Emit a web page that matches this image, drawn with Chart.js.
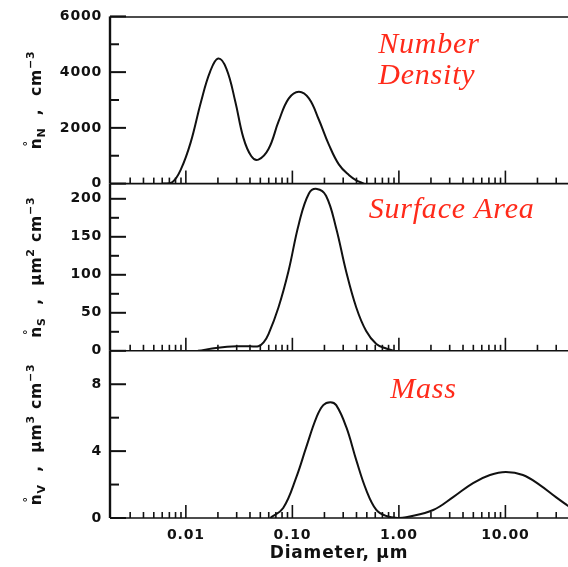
<!DOCTYPE html>
<html><head><meta charset="utf-8">
<script src="https://cdn.jsdelivr.net/npm/chart.js@4.4.0/dist/chart.umd.min.js"></script>
<style>html,body{margin:0;padding:0;background:#fff;overflow:hidden}#wrap{width:568px;height:567px;position:relative}</style>
</head><body><div id="wrap"><canvas id="c" width="568" height="567"></canvas></div>
<script>
// ---- data (diameter in µm) ----
const diamN = [0.006, 0.0075, 0.009, 0.0111, 0.0139, 0.0169, 0.0201, 0.024, 0.0291, 0.0347, 0.0412, 0.048, 0.0597, 0.0742, 0.0922, 0.115, 0.143, 0.177, 0.22, 0.274, 0.341, 0.398, 0.47];
const numberDensity = [0, 60, 520, 1480, 2950, 4020, 4490, 4130, 2950, 1640, 980, 860, 1240, 2230, 3050, 3300, 3060, 2300, 1400, 680, 300, 120, 0];

const diamS = [0.013, 0.02, 0.03, 0.04, 0.048, 0.0537, 0.0597, 0.074, 0.092, 0.115, 0.143, 0.17, 0.207, 0.257, 0.319, 0.398, 0.493, 0.614, 0.76, 0.9];
const surfaceArea = [0, 4, 6, 6, 6, 11, 22, 57, 105, 167, 207, 213, 204, 162, 105, 57, 26, 9, 3, 0];

const diamV = [0.062, 0.082, 0.109, 0.135, 0.168, 0.195, 0.227, 0.258, 0.321, 0.398, 0.494, 0.614, 0.76, 1.0, 1.17, 2.1, 3.23, 4.97, 7.17, 10.1, 14.6, 21.1, 29.8, 40];
const mass = [0, 0.6, 2.45, 4.24, 6.0, 6.75, 6.93, 6.75, 5.43, 3.46, 1.67, 0.48, 0.12, 0, 0.05, 0.48, 1.25, 2.09, 2.57, 2.75, 2.57, 1.97, 1.25, 0.66];

// ---- ticks ----
const xTickValues = [0.01, 0.1, 1, 10];
const xTickLabels = ['0.01', '0.10', '1.00', '10.00'];
const xMinorTicks = [0.003,0.004,0.005,0.006,0.007,0.008,0.009,
                     0.02,0.03,0.04,0.05,0.06,0.07,0.08,0.09,
                     0.2,0.3,0.4,0.5,0.6,0.7,0.8,0.9,
                     2,3,4,5,6,7,8,9,20,30];
const yTicksN = [0, 2000, 4000, 6000], yMinorN = [1000, 3000, 5000];
const yTicksS = [0, 50, 100, 150, 200], yMinorS = [25, 75, 125, 175];
const yTicksV = [0, 4, 8], yMinorV = [2, 6];
const panelLabels = ['Number', 'Density', 'Surface Area', 'Mass'];
const xTitle = 'Diameter, µm';

const pts = (xs, ys) => xs.map((x, i) => ({x: x, y: ys[i]}));
const lineStyle = {borderColor: '#111', borderWidth: 2, pointRadius: 0, fill: false, tension: 0.4};
const FONT = '"DejaVu Sans", sans-serif';

function line(ctx, x1, y1, x2, y2) { ctx.beginPath(); ctx.moveTo(x1, y1); ctx.lineTo(x2, y2); ctx.stroke(); }

function drawYTitle(ctx, cx, cy, parts, size) {
  ctx.save();
  ctx.translate(cx, cy);
  ctx.rotate(-Math.PI / 2);
  ctx.textBaseline = 'alphabetic';
  ctx.textAlign = 'left';
  ctx.fillStyle = '#111';
  const base = 'bold ' + size + 'px ' + FONT;
  const small = 'bold ' + Math.round(size * 0.72) + 'px ' + FONT;
  let w = 0;
  parts.forEach(p => { ctx.font = p.small ? small : base; p.w = ctx.measureText(p.t).width; w += p.w; });
  let x = -w / 2;
  parts.forEach(p => {
    ctx.font = p.small ? small : base;
    ctx.fillText(p.t, x, p.dy || 0);
    if (p.ring) { ctx.font = small; const rw = ctx.measureText('°').width; ctx.fillText('°', x + p.w / 2 - rw / 2, -size * 0.62); }
    x += p.w;
  });
  ctx.restore();
}

const spacing = {
  id: 'spacing',
  beforeDraw(chart) { chart.ctx.letterSpacing = '0.8px'; }
};

const decor = {
  id: 'decor',
  afterDatasetsDraw(chart) {
    const {ctx, chartArea: a, scales} = chart;
    const xs = scales.x;
    ctx.save();
    ctx.strokeStyle = '#111';
    const panels = [
      {s: scales.yN, major: yTicksN, minor: yMinorN},
      {s: scales.yS, major: yTicksS, minor: yMinorS},
      {s: scales.yV, major: yTicksV, minor: yMinorV}
    ];
    ctx.lineWidth = 1.5;
    line(ctx, a.left, scales.yN.top + 0.5, a.right, scales.yN.top + 0.5);
    panels.forEach(p => {
      const s = p.s;
      ctx.lineWidth = 1.6;
      line(ctx, a.left, s.bottom, a.right, s.bottom);
      ctx.lineWidth = 2.4;
      line(ctx, a.left, s.top, a.left, s.bottom);
      ctx.lineWidth = 2;
      p.major.forEach(v => { const y = s.getPixelForValue(v); line(ctx, a.left, y, a.left + 16, y); });
      p.minor.forEach(v => { const y = s.getPixelForValue(v); line(ctx, a.left, y, a.left + 9, y); });
      ctx.lineWidth = 1.6;
      xTickValues.forEach(v => { const x = xs.getPixelForValue(v); line(ctx, x, s.bottom, x, s.bottom - 13); });
      xMinorTicks.forEach(v => { const x = xs.getPixelForValue(v); line(ctx, x, s.bottom, x, s.bottom - 6); });
    });
    // panel labels
    ctx.fillStyle = '#ff2a1a';
    ctx.font = 'italic 30px "Liberation Serif", serif';
    ctx.textBaseline = 'alphabetic';
    ctx.textAlign = 'left';
    ctx.fillText(panelLabels[0], xs.getPixelForValue(0.64), scales.yN.getPixelForValue(4700));
    ctx.fillText(panelLabels[1], xs.getPixelForValue(0.64), scales.yN.getPixelForValue(3557));
    ctx.fillText(panelLabels[2], xs.getPixelForValue(0.52), scales.yS.getPixelForValue(175));
    ctx.fillText(panelLabels[3], xs.getPixelForValue(0.83), scales.yV.getPixelForValue(7.16));
    ctx.restore();
    // y axis titles
    const cyN = (scales.yN.top + scales.yN.bottom) / 2;
    const cyS = (scales.yS.top + scales.yS.bottom) / 2;
    const cyV = (scales.yV.top + scales.yV.bottom) / 2;
    drawYTitle(ctx, 41, cyN, [{t: 'n', ring: true}, {t: 'N', small: true, dy: 4}, {t: '  ,  cm'}, {t: '−3', small: true, dy: -7}], 15.5);
    drawYTitle(ctx, 41, cyS, [{t: 'n', ring: true}, {t: 'S', small: true, dy: 4}, {t: '  ,  µm'}, {t: '2', small: true, dy: -7}, {t: ' cm'}, {t: '−3', small: true, dy: -7}], 15.5);
    drawYTitle(ctx, 41, cyV, [{t: 'n', ring: true}, {t: 'V', small: true, dy: 4}, {t: '  ,  µm'}, {t: '3', small: true, dy: -7}, {t: ' cm'}, {t: '−3', small: true, dy: -7}], 15.5);
  }
};

const yCommon = (min, max, step, weight) => ({
  type: 'linear', position: 'left', stack: 'panels', stackWeight: 1, weight: weight,
  min: min, max: max,
  grid: {display: false, drawTicks: false}, border: {display: false},
  ticks: {stepSize: step, includeBounds: false, padding: 8, color: '#111',
          font: {family: FONT, weight: 'bold', size: 14},
          callback: v => String(v)},
  afterFit: s => { s.width = 110; }
});

new Chart(document.getElementById('c'), {
  type: 'line',
  data: {datasets: [
    Object.assign({data: pts(diamN, numberDensity), yAxisID: 'yN'}, lineStyle),
    Object.assign({data: pts(diamS, surfaceArea), yAxisID: 'yS'}, lineStyle),
    Object.assign({data: pts(diamV, mass), yAxisID: 'yV'}, lineStyle)
  ]},
  options: {
    responsive: false, animation: false, devicePixelRatio: 1,
    layout: {padding: {top: 15, left: 0, right: 0, bottom: 0}},
    plugins: {legend: {display: false}, tooltip: {enabled: false}},
    scales: {
      x: {
        type: 'logarithmic', position: 'bottom', min: 0.00194, max: 38.7,
        grid: {display: false, drawTicks: false}, border: {display: false},
        afterBuildTicks: s => { s.ticks = xTickValues.map(v => ({value: v})); },
        ticks: {autoSkip: false, maxRotation: 0, padding: 9, color: '#111',
                font: {family: FONT, weight: 'bold', size: 14},
                callback: (v, i) => xTickLabels[i]},
        title: {display: true, text: xTitle, color: '#111', padding: {top: 0, bottom: 3},
                font: {family: FONT, weight: 'bold', size: 17}},
        afterFit: s => { s.height = 49; }
      },
      yN: yCommon(0, 6000, 2000, 3),
      yS: yCommon(0, 220, 50, 2),
      yV: yCommon(0, 10, 4, 1)
    }
  },
  plugins: [spacing, decor]
});
</script></body></html>
